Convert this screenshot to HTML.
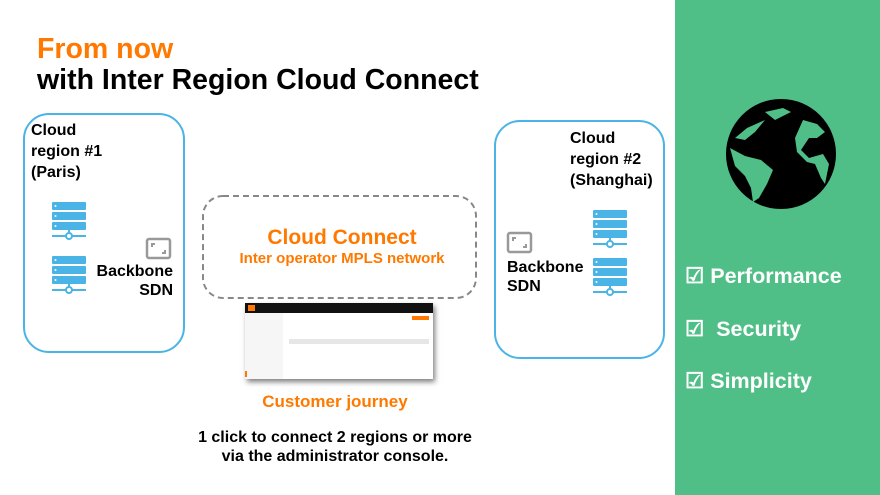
<!DOCTYPE html>
<html><head><style>
body{margin:0;width:880px;height:495px;background:#fff;position:relative;overflow:hidden;font-family:"Liberation Sans",Arial,sans-serif;}
.a{position:absolute;}
.b{font-weight:bold;}
.box{position:absolute;border:2px solid #4BB4E6;border-radius:26px;box-sizing:border-box;}
</style></head><body>
<div class="a b" style="left:37px;top:33px;font-size:28.5px;color:#FF7900;">From now</div>
<div class="a b" style="left:37px;top:64px;font-size:28.5px;color:#000;">with Inter Region Cloud Connect</div>

<div class="box" style="left:23px;top:113px;width:162px;height:240px;"></div>
<div class="a b" style="left:31px;top:120px;font-size:16px;line-height:21px;">Cloud<br>region #1<br>(Paris)</div>
<div class="a b" style="left:93px;top:262px;font-size:16px;line-height:19px;text-align:right;width:80px;">Backbone<br>SDN</div>

<div class="box" style="left:494px;top:120px;width:171px;height:239px;"></div>
<div class="a b" style="left:570px;top:128px;font-size:16px;line-height:21px;">Cloud<br>region #2<br>(Shanghai)</div>
<div class="a b" style="left:507px;top:258px;font-size:16px;line-height:19px;">Backbone<br>SDN</div>

<svg class="a" style="left:0;top:0" width="880" height="495">
<defs>
<g id="srv">
<rect x="0" y="0" width="34" height="8" rx="1" fill="#4BB4E6"/>
<rect x="0" y="10" width="34" height="8" rx="1" fill="#4BB4E6"/>
<rect x="0" y="20" width="34" height="8" rx="1" fill="#4BB4E6"/>
<circle cx="3.5" cy="4" r="1" fill="#fff"/><circle cx="3.5" cy="14" r="1" fill="#fff"/><circle cx="3.5" cy="24" r="1" fill="#fff"/>
<line x1="17" y1="28" x2="17" y2="32" stroke="#4BB4E6" stroke-width="2"/>
<line x1="0" y1="34" x2="34" y2="34" stroke="#4BB4E6" stroke-width="2"/>
<circle cx="17" cy="34" r="3" fill="#fff" stroke="#4BB4E6" stroke-width="2"/>
</g>
<g id="sdn">
<rect x="1" y="1" width="23" height="19" rx="2" fill="none" stroke="#999" stroke-width="2.5"/>
<path d="M6 9V6h3M19 12v3h-3" fill="none" stroke="#999" stroke-width="2"/>
</g>
</defs>
<use href="#srv" x="52" y="202"/>
<use href="#srv" x="52" y="256"/>
<use href="#sdn" x="146" y="238"/>
<use href="#srv" x="593" y="210"/>
<use href="#srv" x="593" y="258"/>
<use href="#sdn" x="507" y="232"/>
<rect x="203" y="196" width="273" height="102" rx="20" fill="none" stroke="#888" stroke-width="2" stroke-dasharray="6,4"/>
</svg>

<div class="a b" style="left:192px;top:226px;width:300px;text-align:center;font-size:21px;color:#FF7900;">Cloud Connect</div>
<div class="a b" style="left:192px;top:250px;width:300px;text-align:center;font-size:15px;color:#FF7900;">Inter operator MPLS network</div>

<div class="a" style="left:245px;top:303px;width:188px;height:76px;background:#fff;box-shadow:2px 3px 5px rgba(0,0,0,0.5);">
<div class="a" style="left:0;top:0;width:188px;height:10px;background:#111;"></div>
<div class="a" style="left:3px;top:2px;width:7px;height:6px;background:#FF7900;"></div>
<div class="a" style="left:0;top:10px;width:38px;height:66px;background:#f6f6f6;"></div>
<div class="a" style="left:167px;top:13px;width:17px;height:4px;background:#FF7900;"></div>
<div class="a" style="left:44px;top:36px;width:140px;height:5px;background:#e6e6e6;"></div>
<div class="a" style="left:0;top:68px;width:2px;height:6px;background:#FF7900;"></div>
</div>

<div class="a b" style="left:235px;top:392px;width:200px;text-align:center;font-size:17px;color:#FF7900;">Customer journey</div>
<div class="a b" style="left:150px;top:428px;width:370px;text-align:center;font-size:16px;line-height:19px;">1 click to connect 2 regions or more<br>via the administrator console.</div>

<div class="a" style="left:675px;top:0;width:205px;height:495px;background:#50BE87;"></div>
<svg class="a" style="left:725px;top:98px" width="112" height="112" viewBox="0 0 112 112">
<circle cx="56" cy="56" r="55" fill="#000"/>
<path d="M10 40 L22 30 L40 22 L30 34 L20 42 Z" fill="#50BE87"/>
<path d="M40 14 L58 10 L66 14 L50 22 Z" fill="#50BE87"/>
<path d="M5 50 L20 58 L36 62 L48 72 L42 86 L34 100 L28 104 L26 90 L20 78 L10 68 Z" fill="#50BE87"/>
<path d="M78 22 L92 26 L100 34 L92 40 L84 40 L76 52 L84 60 L98 56 L104 66 L100 86 L96 80 L90 66 L82 64 L72 54 L70 40 Z" fill="#50BE87"/>
</svg>
<div class="a b" style="left:685px;top:264px;font-size:21.5px;color:#fff;">☑ Performance</div>
<div class="a b" style="left:685px;top:317px;font-size:21.5px;color:#fff;">☑ &nbsp;Security</div>
<div class="a b" style="left:685px;top:369px;font-size:21.5px;color:#fff;">☑ Simplicity</div>
</body></html>
